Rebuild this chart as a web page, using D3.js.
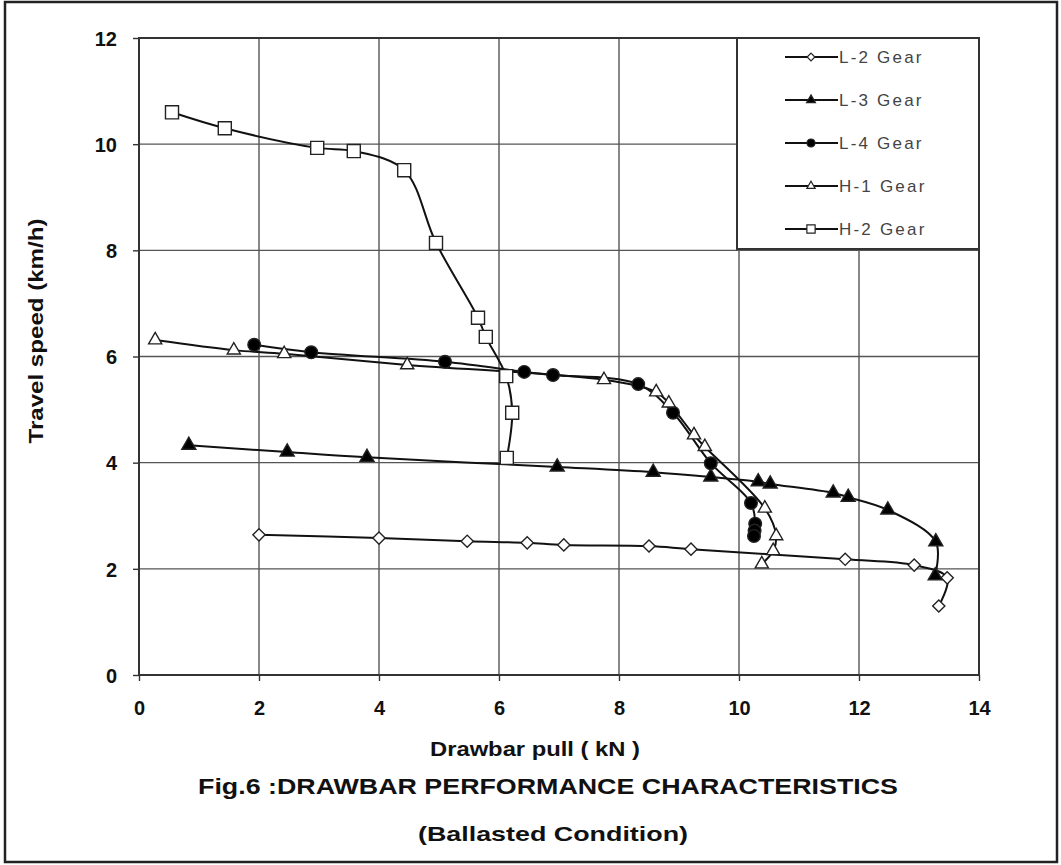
<!DOCTYPE html>
<html>
<head>
<meta charset="utf-8">
<script src="https://cdn.jsdelivr.net/npm/d3@7"></script>
<style>
  body { margin: 0; background: #fff; }
  svg { display: block; }
</style>
</head>
<body>
<script>
var W = 1061, H = 865;

// data
var l2X = [2.0, 4.0, 5.47, 6.47, 7.08, 8.5, 9.2, 11.77, 12.92, 13.47, 13.33];
var l2Y = [2.64, 2.58, 2.52, 2.49, 2.45, 2.43, 2.37, 2.18, 2.07, 1.83, 1.3];
var l3X = [0.83, 2.47, 3.8, 6.97, 8.57, 9.53, 10.32, 10.52, 11.57, 11.82, 12.48, 13.28, 13.27];
var l3Y = [4.33, 4.2, 4.1, 3.92, 3.82, 3.73, 3.64, 3.6, 3.43, 3.35, 3.11, 2.51, 1.87];
var l4X = [1.92, 2.87, 5.1, 6.42, 6.9, 8.32, 8.9, 9.53, 10.2, 10.27, 10.26, 10.25];
var l4Y = [6.22, 6.08, 5.9, 5.71, 5.65, 5.48, 4.94, 3.99, 3.24, 2.85, 2.72, 2.62];
var h1X = [0.27, 1.58, 2.42, 4.47, 7.75, 8.62, 8.83, 9.25, 9.43, 10.43, 10.62, 10.57, 10.38];
var h1Y = [6.31, 6.12, 6.05, 5.84, 5.56, 5.33, 5.12, 4.52, 4.3, 3.14, 2.62, 2.34, 2.09];
var h2X = [0.55, 1.43, 2.97, 3.58, 4.42, 4.95, 5.65, 5.78, 6.12, 6.22, 6.13];
var h2Y = [10.6, 10.3, 9.93, 9.87, 9.51, 8.14, 6.73, 6.37, 5.63, 4.94, 4.09];

var seriesNames = ["L-2 Gear", "L-3 Gear", "L-4 Gear", "H-1 Gear", "H-2 Gear"];
var xTicks = [0, 2, 4, 6, 8, 10, 12, 14];
var yTicks = [0, 2, 4, 6, 8, 10, 12];

var series = [
  {name: seriesNames[0], xs: l2X, ys: l2Y, shape: d3.symbolDiamond2, size: 95, fill: "#fff"},
  {name: seriesNames[1], xs: l3X, ys: l3Y, shape: d3.symbolTriangle, size: 85, fill: "#000"},
  {name: seriesNames[2], xs: l4X, ys: l4Y, shape: d3.symbolCircle, size: 125, fill: "#000"},
  {name: seriesNames[3], xs: h1X, ys: h1Y, shape: d3.symbolTriangle, size: 75, fill: "#fff"},
  {name: seriesNames[4], xs: h2X, ys: h2Y, shape: d3.symbolSquare, size: 170, fill: "#fff"}
];

var plotL = 139, plotR = 979, plotT = 38, plotB = 675;

var x = d3.scaleLinear().domain([0, 14]).range([plotL, plotR]);
var y = d3.scaleLinear().domain([0, 12]).range([plotB, plotT]);

var svg = d3.select("body").append("svg")
  .attr("width", W)
  .attr("height", H);

svg.append("rect")
  .attr("width", W).attr("height", H)
  .attr("fill", "#fff");

// outer frame
svg.append("rect")
  .attr("x", 5).attr("y", 2)
  .attr("width", W - 9).attr("height", H - 5)
  .attr("fill", "none")
  .attr("stroke", "#222")
  .attr("stroke-width", 2.5);

var font = "'Liberation Sans Narrow', 'Arial Narrow', 'Liberation Sans', Arial, sans-serif";

// grid
svg.append("g").selectAll("line")
  .data(xTicks.slice(1, -1))
  .enter().append("line")
  .attr("x1", function(d){ return x(d); })
  .attr("x2", function(d){ return x(d); })
  .attr("y1", plotT).attr("y2", plotB)
  .attr("stroke", "#555").attr("stroke-width", 1.4);

svg.append("g").selectAll("line")
  .data(yTicks.slice(1, -1))
  .enter().append("line")
  .attr("x1", plotL).attr("x2", plotR)
  .attr("y1", function(d){ return y(d); })
  .attr("y2", function(d){ return y(d); })
  .attr("stroke", "#555").attr("stroke-width", 1.4);

// axes
var xAxis = svg.append("g")
  .attr("transform", "translate(0," + plotB + ")")
  .call(d3.axisBottom(x).tickValues(xTicks).tickSize(6).tickPadding(20).tickSizeOuter(0));
var yAxis = svg.append("g")
  .attr("transform", "translate(" + plotL + ",0)")
  .call(d3.axisLeft(y).tickValues(yTicks).tickSize(6).tickPadding(16).tickSizeOuter(0));

[xAxis, yAxis].forEach(function(a){
  a.select(".domain").remove();
  a.selectAll(".tick line").attr("stroke", "#333").attr("stroke-width", 1.4);
  a.selectAll("text")
    .attr("font-family", font)
    .attr("font-weight", "bold")
    .attr("font-size", "20px")
    .attr("fill", "#111");
});
yAxis.selectAll("text").attr("dy", "0.36em");

// plot frame
svg.append("rect")
  .attr("x", plotL).attr("y", plotT)
  .attr("width", plotR - plotL).attr("height", plotB - plotT)
  .attr("fill", "none")
  .attr("stroke", "#333").attr("stroke-width", 2);

// series lines
var line = d3.line()
  .x(function(d){ return x(d[0]); })
  .y(function(d){ return y(d[1]); })
  .curve(d3.curveCatmullRom.alpha(0.5));

series.forEach(function(s){
  var pts = s.xs.map(function(v, i){ return [v, s.ys[i]]; });
  s.pts = pts;
  svg.append("path")
    .datum(pts)
    .attr("d", line)
    .attr("fill", "none")
    .attr("stroke", "#111")
    .attr("stroke-width", 2);
});

series.forEach(function(s){
  svg.append("g").selectAll("path")
    .data(s.pts)
    .enter().append("path")
    .attr("d", d3.symbol().type(s.shape).size(s.size))
    .attr("transform", function(d){ return "translate(" + x(d[0]) + "," + y(d[1]) + ")"; })
    .attr("fill", s.fill)
    .attr("stroke", "#222")
    .attr("stroke-width", 1.4);
});

// legend
var lg = svg.append("g");
lg.append("rect")
  .attr("x", 737).attr("y", plotT)
  .attr("width", plotR - 737).attr("height", 211)
  .attr("fill", "#fff")
  .attr("stroke", "#333").attr("stroke-width", 2);

var legendY = d3.scalePoint().domain(seriesNames).range([57, 229]);

series.forEach(function(s){
  var ly = legendY(s.name);
  lg.append("line")
    .attr("x1", 785).attr("x2", 838)
    .attr("y1", ly).attr("y2", ly)
    .attr("stroke", "#111").attr("stroke-width", 2);
  lg.append("path")
    .attr("d", d3.symbol().type(s.shape).size(s.size * 0.4))
    .attr("transform", "translate(811," + ly + ")")
    .attr("fill", s.fill)
    .attr("stroke", "#222").attr("stroke-width", 1.2);
  lg.append("text")
    .attr("x", 839).attr("y", ly)
    .attr("dy", "0.36em")
    .attr("font-family", "'Liberation Sans', Arial, sans-serif")
    .attr("font-size", "17px")
    .attr("letter-spacing", "2.2px")
    .attr("fill", "#444")
    .text(s.name);
});

// titles
function title(txt, tx, ty, size, len, rot) {
  var t = svg.append("text")
    .attr("transform", "translate(" + tx + "," + ty + ")" + (rot ? " rotate(-90)" : ""))
    .attr("text-anchor", "middle")
    .attr("font-family", font)
    .attr("font-weight", "bold")
    .attr("font-size", size + "px")
    .attr("fill", "#111")
    .attr("textLength", len)
    .attr("lengthAdjust", "spacingAndGlyphs")
    .text(txt);
  return t;
}

title("Travel speed (km/h)", 43, 331, 20, 225, true);
title("Drawbar pull ( kN )", 535, 756, 20, 210, false);
title("Fig.6 :DRAWBAR PERFORMANCE CHARACTERISTICS", 548, 794, 22, 700, false);
title("(Ballasted Condition)", 553, 841, 21, 270, false);
</script>
</body>
</html>
